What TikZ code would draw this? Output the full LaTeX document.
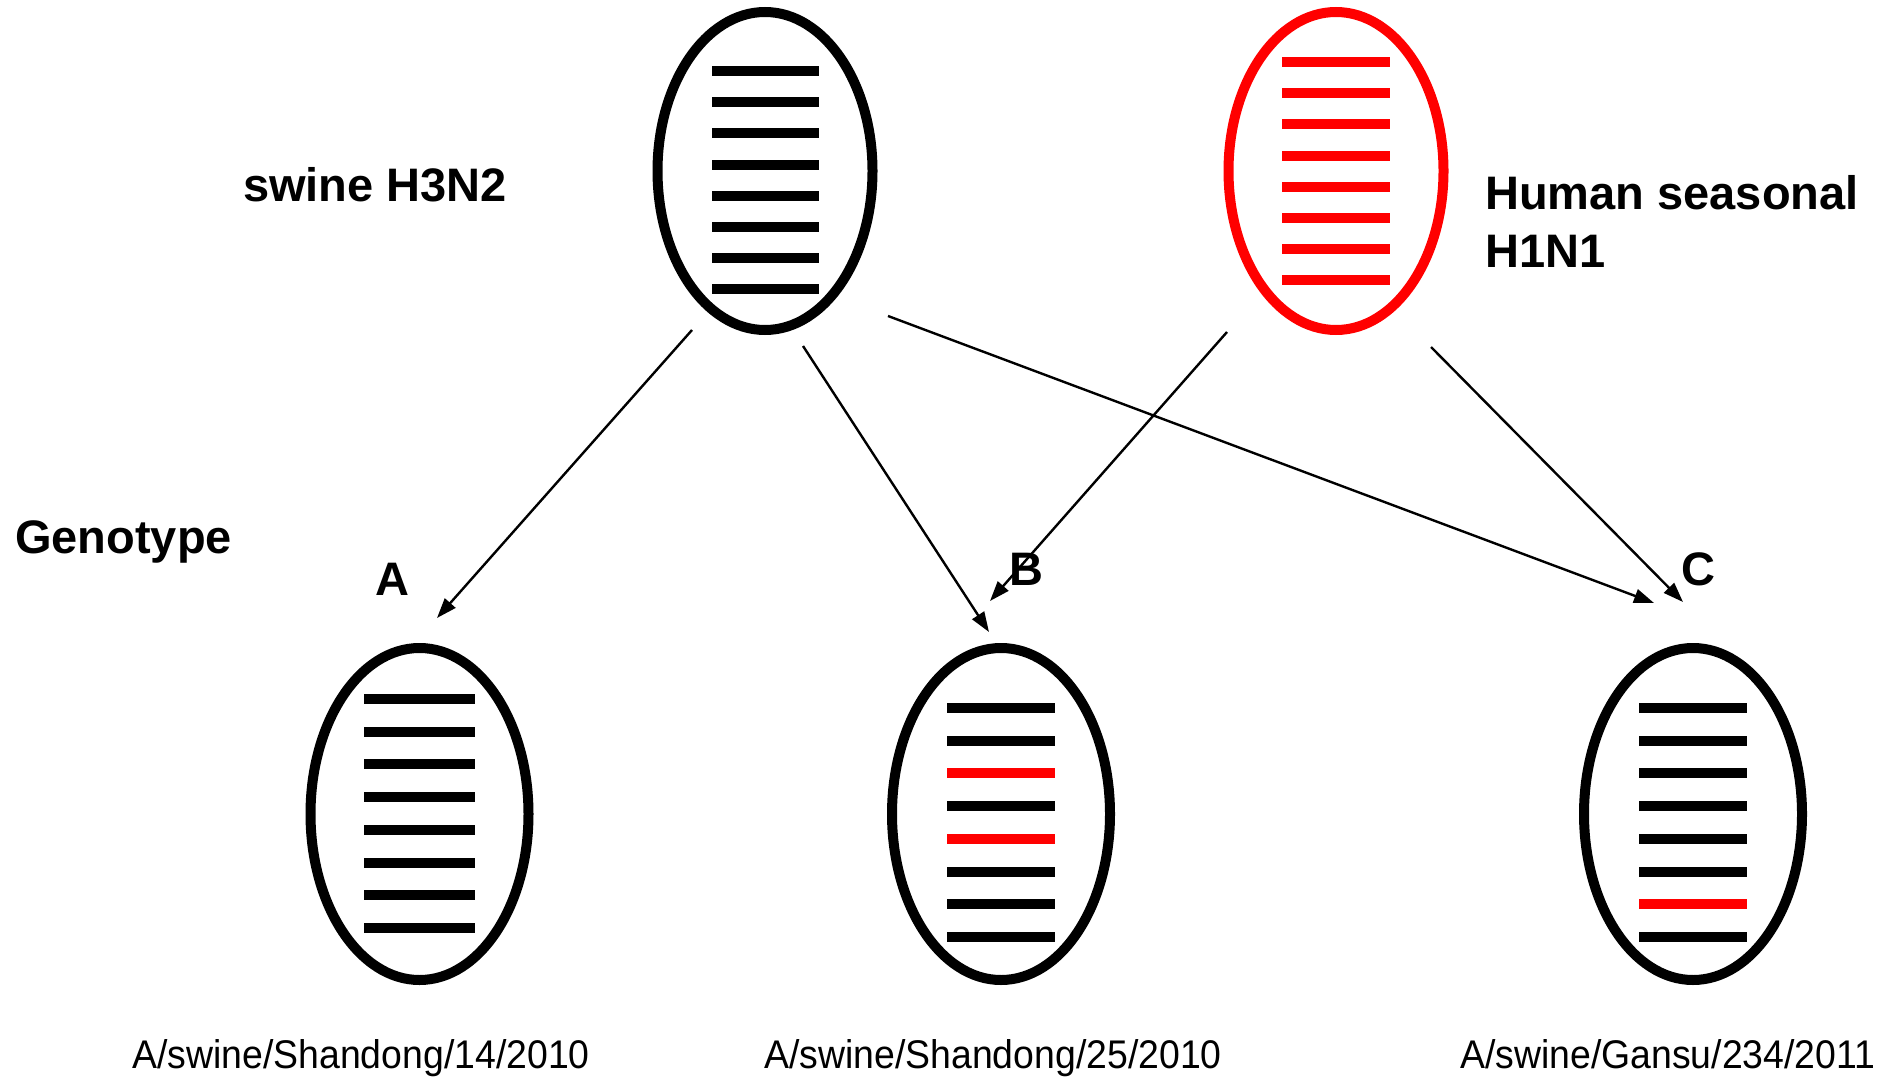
\documentclass[tikz,border=0pt]{standalone}
\usepackage{fontspec}
\setmainfont{Liberation Sans}
\usetikzlibrary{shapes.geometric,arrows.meta}
\begin{document}
\begin{tikzpicture}[x=1pt,y=-1pt,
  virus/.style={ellipse, draw, line width=10pt, inner sep=0pt,
                minimum width=215pt, minimum height=318pt},
  progeny/.style={virus, minimum width=218pt, minimum height=332pt},
  seg/.style={line width=10pt},
  link/.style={line width=2.4pt, -{Triangle[length=20pt,width=14pt]}},
  title/.style={font=\fontsize{47}{55}\selectfont\bfseries, inner sep=0pt, anchor=base west},
  letter/.style={font=\fontsize{47}{55}\selectfont\bfseries, inner sep=0pt, anchor=base},
  strain/.style={font=\fontsize{40}{46}\selectfont, inner sep=0pt, anchor=base west}]
\useasboundingbox (0,0) rectangle (1884,1076);

% parent viruses
\node[virus] (sw) at (765,171) {};
\node[virus, draw=red] (hu) at (1336,171) {};
\foreach \i in {0,...,7} {
  \draw[seg] (712,{71+\i*31.2}) -- (819,{71+\i*31.2});
  \draw[seg, red] (1282,{62+\i*31.2}) -- (1390,{62+\i*31.2});
}

% reassortant genotypes
\node[progeny] (ga) at (419.5,814) {};
\node[progeny] (gb) at (1001,814) {};
\node[progeny] (gc) at (1693,814) {};
\foreach \i in {0,...,7}
  \draw[seg] (364,{699+\i*32.7}) -- (475,{699+\i*32.7});
\foreach \i/\c in {0/black,1/black,2/red,3/black,4/red,5/black,6/black,7/black}
  \draw[seg, \c] (947,{708+\i*32.7}) -- (1055,{708+\i*32.7});
\foreach \i/\c in {0/black,1/black,2/black,3/black,4/black,5/black,6/red,7/black}
  \draw[seg, \c] (1639,{708+\i*32.7}) -- (1747,{708+\i*32.7});

% labels
\node[title] (lsw) at (243,201) {swine H3N2};
\node[title] (lhu1) at (1485,209) {Human seasonal};
\node[title] (lhu2) at (1485,267) {H1N1};
\node[title] (lgen) at (15,553) {Genotype};
\node[letter] (la) at (392,595) {A};
\node[letter] (lb) at (1026,585) {B};
\node[letter] (lc) at (1698,585) {C};
\node[strain] (sa) at (132,1068) {\scalebox{0.935}[1]{A/swine/Shandong/14/2010}};
\node[strain] (sb) at (764,1068) {\scalebox{0.935}[1]{A/swine/Shandong/25/2010}};
\node[strain] (sc) at (1460,1068) {\scalebox{0.935}[1]{A/swine/Gansu/234/2011}};

% arrow ends
\coordinate (swA) at (692,330);
\coordinate (swB) at (803,346);
\coordinate (swC) at (888,316);
\coordinate (huB) at (1227,332);
\coordinate (huC) at (1431,347);
\coordinate (inA) at (437,618);
\coordinate (inB1) at (989,632);
\coordinate (inB2) at (990,601);
\coordinate (inC1) at (1654,603);
\coordinate (inC2) at (1683,602);

\draw[link] (swA) -- (inA);
\draw[link] (swB) -- (inB1);
\draw[link] (swC) -- (inC1);
\draw[link] (huB) -- (inB2);
\draw[link] (huC) -- (inC2);
\end{tikzpicture}
\end{document}
